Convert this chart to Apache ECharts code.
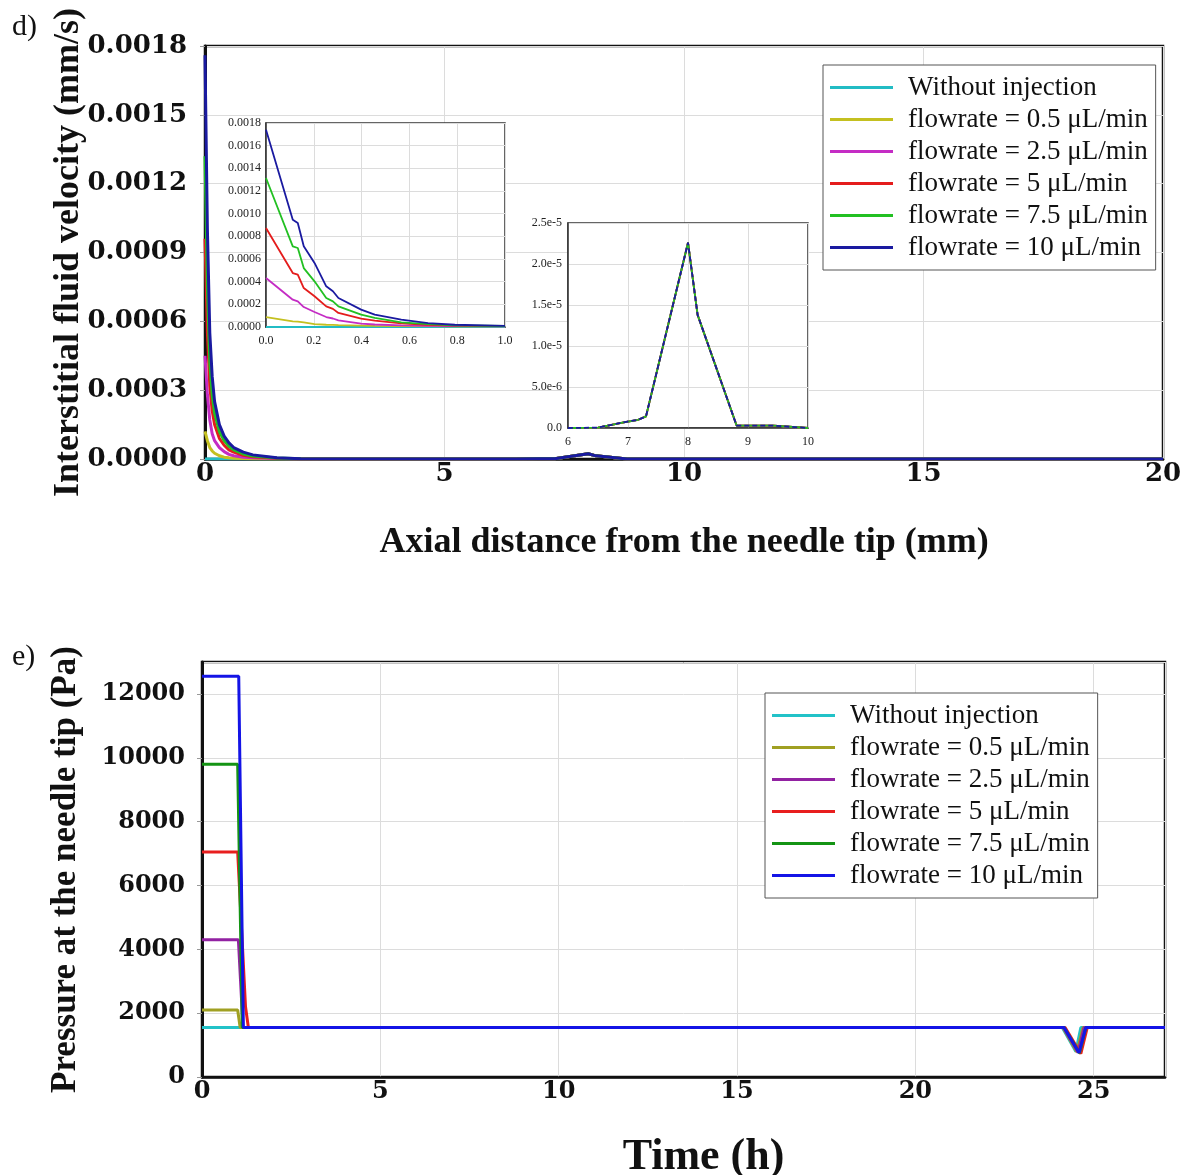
<!DOCTYPE html>
<html><head><meta charset="utf-8">
<script src="https://cdn.jsdelivr.net/npm/echarts@6/dist/echarts.min.js"></script>
<style>html,body{margin:0;padding:0;background:#fff}#c{width:1194px;height:1175px}</style>
</head><body><div id="c"></div>
<script>
// ---------- names / colours ----------
const seriesNames = ['Without injection','flowrate = 0.5 μL/min','flowrate = 2.5 μL/min','flowrate = 5 μL/min','flowrate = 7.5 μL/min','flowrate = 10 μL/min'];
const colorsTop = ['#22bcc4','#c4c020','#c42cc4','#e41c1c','#22c022','#1a1aa0'];
const colorsBottom = ['#22c2c8','#a0a022','#9222a2','#e81e1e','#149414','#1414e6'];

// ---------- panel d: main chart (axial distance, mm) ----------
const nearX = [0, 0.05, 0.1, 0.15, 0.2, 0.3, 0.4, 0.5, 0.6, 0.8, 1.0, 1.5, 2.0];
const velNone = [0,0,0,0,0,0,0,0,0,0,0,0,0];
const vel05  = [0.00012, 0.00008, 0.00005, 0.000035, 0.000025, 0.000014, 0.000008, 0.000005, 0.000003, 0.000002, 0.000001, 0, 0];
const vel25  = [0.00045, 0.00028, 0.00017, 0.00011, 0.00008, 0.00005, 0.000032, 0.00002, 0.000014, 0.000008, 0.000005, 0.000002, 0];
const vel5   = [0.00096, 0.00055, 0.00032, 0.00021, 0.00015, 0.00009, 0.00006, 0.00004, 0.00003, 0.000016, 0.00001, 0.000003, 0.000001];
const vel75  = [0.00132, 0.00075, 0.00042, 0.00028, 0.0002, 0.00012, 0.00008, 0.000055, 0.00004, 0.000022, 0.000013, 0.000004, 0.000001];
const vel10  = [0.00176, 0.0010, 0.00055, 0.00036, 0.00025, 0.00015, 0.0001, 0.00007, 0.00005, 0.00003, 0.000018, 0.000005, 0.000001];
// bump around 8 mm (same for every case) - also the right inset
const bumpX = [6, 6.5, 6.95, 7.17, 7.3, 8.0, 8.16, 8.81, 9.43, 10];
const bumpV = [0, 0.00000005, 0.00000073, 0.000001, 0.00000142, 0.0000226, 0.0000138, 0.0000003, 0.00000028, 0];
const farX = [20];
const farV = [0];

// ---------- panel d: left inset (0..1 mm) ----------
const insetX = [0, 0.112, 0.133, 0.158, 0.203, 0.252, 0.28, 0.303, 0.398, 0.455, 0.566, 0.678, 0.79, 1.0];
const insNone = [0,0,0,0,0,0,0,0,0,0,0,0,0,0];
const ins05 = [0.000088, 0.00005, 0.000047, 0.00004, 0.000026, 0.00002, 0.000018, 0.000016, 0.000012, 0.00001, 0.000008, 0.000007, 0.000006, 0.000006];
const ins25 = [0.000432, 0.000241, 0.000226, 0.000176, 0.000132, 0.000088, 0.000075, 0.000059, 0.000029, 0.000022, 0.000015, 0.00001, 0.000008, 0.000006];
const ins5  = [0.000874, 0.000476, 0.000462, 0.000344, 0.000271, 0.000182, 0.00016, 0.000124, 0.000074, 0.000056, 0.000032, 0.00002, 0.000013, 0.000009];
const ins75 = [0.001315, 0.000712, 0.000697, 0.00052, 0.000403, 0.000256, 0.000226, 0.000182, 0.000109, 0.00008, 0.000041, 0.000026, 0.000015, 0.000009];
const ins10 = [0.00174, 0.000947, 0.000918, 0.000712, 0.000565, 0.000359, 0.000315, 0.000256, 0.000153, 0.000109, 0.000065, 0.000035, 0.00002, 0.00001];

// ---------- panel e: pressure vs time ----------
const tNone = [0, 1.0, 24.12, 24.5, 24.64, 27];
const pNone = [1550, 1550, 1550, 800, 1550, 1550];
const t05 = [0, 1.0, 1.07, 24.14, 24.53, 24.7, 27];
const p05 = [2100, 2100, 1550, 1550, 780, 1550, 1550];
const t25 = [0, 1.02, 1.15, 24.15, 24.56, 24.73, 27];
const p25 = [4300, 4300, 1550, 1550, 770, 1550, 1550];
const t5  = [0, 1.0, 1.22, 1.3, 24.2, 24.64, 24.82, 27];
const p5  = [7050, 7050, 2200, 1550, 1550, 730, 1550, 1550];
const t75 = [0, 1.0, 1.13, 24.17, 24.6, 24.78, 27];
const p75 = [9800, 9800, 1550, 1550, 750, 1550, 1550];
const t10 = [0, 1.03, 1.16, 24.17, 24.59, 24.78, 27];
const p10 = [12550, 12550, 1550, 1550, 760, 1550, 1550];

// ---------- build ----------
const pairs = (xs, ys) => xs.map((x, i) => [x, ys[i]]);
const mainVals = [velNone, vel05, vel25, vel5, vel75, vel10];
const insVals = [insNone, ins05, ins25, ins5, ins75, ins10];
const timeArr = [tNone, t05, t25, t5, t75, t10];
const presArr = [pNone, p05, p25, p5, p75, p10];

const SERIF = 'Liberation Serif';
const TICKF = 'DejaVu Serif';
const series = [];
seriesNames.forEach((n, k) => {
  series.push({ name: n, type: 'line', xAxisIndex: 0, yAxisIndex: 0, symbol: 'none', z: 2,
    data: pairs(nearX, mainVals[k]).concat(pairs(bumpX, bumpV)).concat(pairs(farX, farV)),
    lineStyle: { color: colorsTop[k], width: 3 }, itemStyle: { color: colorsTop[k] } });
  series.push({ name: n, type: 'line', xAxisIndex: 1, yAxisIndex: 1, symbol: 'none', z: 7,
    data: pairs(insetX, insVals[k]),
    lineStyle: { color: colorsTop[k], width: 1.8 }, itemStyle: { color: colorsTop[k] } });
  series.push({ name: n, type: 'line', xAxisIndex: 2, yAxisIndex: 2, symbol: 'none', z: 7,
    data: pairs(bumpX, bumpV),
    lineStyle: { color: colorsTop[k], width: 1.8, type: k === 5 ? [5, 3] : 'solid' }, itemStyle: { color: colorsTop[k] } });
  series.push({ name: n, type: 'line', xAxisIndex: 3, yAxisIndex: 3, symbol: 'none', z: 2,
    data: pairs(timeArr[k], presArr[k]),
    lineStyle: { color: colorsBottom[k], width: 3 }, itemStyle: { color: colorsBottom[k] } });
});

const grid = (o) => Object.assign({ show: true, backgroundColor: '#fff', borderColor: '#111', borderWidth: 2.5, containLabel: false, outerBoundsMode: 'none' }, o);
const split = { show: true, lineStyle: { color: '#dcdcdc', width: 1 } };
const bigLab = (size, margin) => ({ fontFamily: TICKF, fontWeight: 'bold', fontSize: size, color: '#111', margin: margin });
const smallLab = (margin) => ({ fontFamily: SERIF, fontSize: 12, color: '#222', margin: margin });

const legend = (left, top, colors) => ({
  left: left, top: top, orient: 'vertical', selectedMode: false,
  backgroundColor: '#fff', borderColor: '#555', borderWidth: 1,
  padding: [9, 8, 9, 7], itemWidth: 63, itemHeight: 3, itemGap: 5, icon: 'rect', z: 20,
  textStyle: { fontFamily: SERIF, fontSize: 27, lineHeight: 27, color: '#111', padding: [0, 0, 0, 10] },
  data: seriesNames.map((n, k) => ({ name: n, itemStyle: { color: colors[k] } }))
});

const option = {
  animation: false,
  backgroundColor: '#fff',
  grid: [
    grid({ left: 205, top: 46, width: 958, height: 413 }),
    grid({ left: 266, top: 123, width: 239, height: 204, borderColor: '#333', borderWidth: 1.5, z: 5 }),
    grid({ left: 568, top: 223, width: 240, height: 205, borderColor: '#333', borderWidth: 1.5, z: 5 }),
    grid({ left: 202, top: 662, width: 963, height: 415 })
  ],
  xAxis: [
    { type: 'value', gridIndex: 0, min: 0, max: 20, interval: 5,
      axisLine: { lineStyle: { color: '#111', width: 2.5 } }, axisTick: { show: false },
      axisLabel: bigLab(26, 2), splitLine: split,
      name: 'Axial distance from the needle tip (mm)', nameLocation: 'middle', nameGap: 66, nameMoveOverlap: false,
      nameTextStyle: { fontFamily: SERIF, fontWeight: 'bold', fontSize: 36, color: '#111' } },
    { type: 'value', gridIndex: 1, min: 0, max: 1, interval: 0.2, z: 6,
      axisLine: { lineStyle: { color: '#333', width: 1.5 } }, axisTick: { show: false },
      axisLabel: Object.assign(smallLab(8), { formatter: v => v.toFixed(1) }), splitLine: split },
    { type: 'value', gridIndex: 2, min: 6, max: 10, interval: 1, z: 6,
      axisLine: { lineStyle: { color: '#333', width: 1.5 } }, axisTick: { show: false },
      axisLabel: smallLab(8), splitLine: split },
    { type: 'value', gridIndex: 3, min: 0, max: 27, interval: 5,
      axisLine: { lineStyle: { color: '#111', width: 2.5 } }, axisTick: { show: false },
      axisLabel: Object.assign(bigLab(24, 3), { showMaxLabel: false }), splitLine: split,
      name: 'Time (h)', nameLocation: 'middle', nameGap: 59, nameMoveOverlap: false,
      nameTextStyle: { fontFamily: SERIF, fontWeight: 'bold', fontSize: 44, color: '#111', padding: [0, 0, 0, 40] } }
  ],
  yAxis: [
    { type: 'value', gridIndex: 0, min: 0, max: 0.0018, interval: 0.0003,
      axisLine: { show: true, lineStyle: { color: '#111', width: 3 } },
      axisTick: { show: true, length: 5, lineStyle: { color: '#999' } },
      axisLabel: Object.assign(bigLab(26, 18), { formatter: v => v.toFixed(4) }), splitLine: split,
      name: 'Interstitial fluid velocity (mm/s)', nameLocation: 'middle', nameGap: 118, nameMoveOverlap: false,
      nameTextStyle: { fontFamily: SERIF, fontWeight: 'bold', fontSize: 36, color: '#111' } },
    { type: 'value', gridIndex: 1, min: 0, max: 0.0018, interval: 0.0002, z: 6,
      axisLine: { show: true, lineStyle: { color: '#333', width: 1.5 } }, axisTick: { show: false },
      axisLabel: Object.assign(smallLab(5), { formatter: v => v.toFixed(4) }), splitLine: split },
    { type: 'value', gridIndex: 2, min: 0, max: 0.000025, interval: 0.000005, z: 6,
      axisLine: { show: true, lineStyle: { color: '#333', width: 1.5 } }, axisTick: { show: false },
      axisLabel: Object.assign(smallLab(6), { formatter: v => v === 0 ? '0.0' : v.toExponential(1) }), splitLine: split },
    { type: 'value', gridIndex: 3, min: 0, max: 13000, interval: 2000,
      axisLine: { show: true, lineStyle: { color: '#111', width: 3 } },
      axisTick: { show: true, length: 5, lineStyle: { color: '#999' } },
      axisLabel: Object.assign(bigLab(24, 17), { showMaxLabel: false, formatter: v => String(Math.round(v)) }), splitLine: split,
      name: 'Pressure at the needle tip (Pa)', nameLocation: 'middle', nameGap: 119, nameMoveOverlap: false,
      nameTextStyle: { fontFamily: SERIF, fontWeight: 'bold', fontSize: 35, color: '#111' } }
  ],
  legend: [ legend(823, 65, colorsTop), legend(765, 693, colorsBottom) ],
  graphic: [
    { type: 'text', left: 12, top: 12, style: { text: 'd)', font: '30px "Liberation Serif"', fill: '#111' } },
    { type: 'text', left: 12, top: 642, style: { text: 'e)', font: '30px "Liberation Serif"', fill: '#111' } }
  ],
  series: series
};
const chart = echarts.init(document.getElementById('c'), null, { renderer: 'canvas' });
chart.setOption(option);
</script></body></html>
